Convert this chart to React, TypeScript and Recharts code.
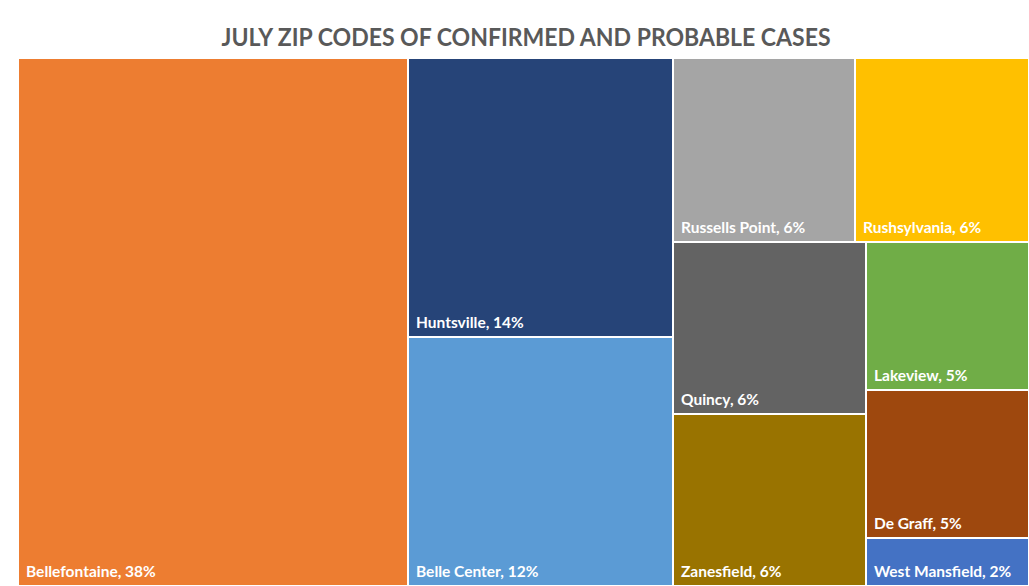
import React from 'react';
import { Treemap } from 'recharts';

const towns = [
  'Bellefontaine',
  'Huntsville',
  'Belle Center',
  'Russells Point',
  'Rushsylvania',
  'Quincy',
  'Zanesfield',
  'Lakeview',
  'De Graff',
  'West Mansfield',
];
const shares = [38.58, 13.85, 12.36, 6.27, 6.0, 6.22, 6.22, 4.52, 4.52, 1.47];
const percentLabels = ['38%', '14%', '12%', '6%', '6%', '6%', '6%', '5%', '5%', '2%'];
const colors = [
  '#ED7D31',
  '#264478',
  '#5B9BD5',
  '#A5A5A5',
  '#FFC000',
  '#636363',
  '#997300',
  '#70AD47',
  '#9E480E',
  '#4472C4',
];

const data = towns.map((name, i) => ({ name, value: shares[i] }));

const CellContent = (props: any) => {
  const { x, y, width, height, depth, name } = props;
  if (depth !== 1) return null;
  const i = towns.indexOf(name);
  return (
    <g>
      <rect x={x} y={y} width={width} height={height} fill={colors[i]} stroke="#ffffff" strokeWidth={2} />
      <text
        x={x + 8}
        y={y + height - 9}
        fill="#ffffff"
        fontFamily="Lato, 'Open Sans', sans-serif"
        fontWeight={700}
        fontSize={15.5}
      >
        {`${name}, ${percentLabels[i]}`}
      </text>
    </g>
  );
};

export default function App() {
  return (
    <div style={{ position: 'relative', width: 1029, height: 586, background: '#ffffff', overflow: 'hidden' }}>
      <style>{'body{margin:0;}'}</style>
      <svg width={1029} height={58} style={{ position: 'absolute', left: 0, top: 0 }}>
        <text
          x={526}
          y={46}
          textAnchor="middle"
          fill="#595959"
          fontFamily="Lato, 'Open Sans', sans-serif"
          fontWeight={700}
          fontSize={24}
          textLength={609}
          lengthAdjust="spacingAndGlyphs"
        >
          JULY ZIP CODES OF CONFIRMED AND PROBABLE CASES
        </text>
      </svg>
      <div style={{ position: 'absolute', left: 18, top: 58 }}>
        <Treemap
          width={1011}
          height={528}
          data={data}
          dataKey="value"
          nameKey="name"
          aspectRatio={1}
          isAnimationActive={false}
          content={<CellContent />}
        />
      </div>
    </div>
  );
}
